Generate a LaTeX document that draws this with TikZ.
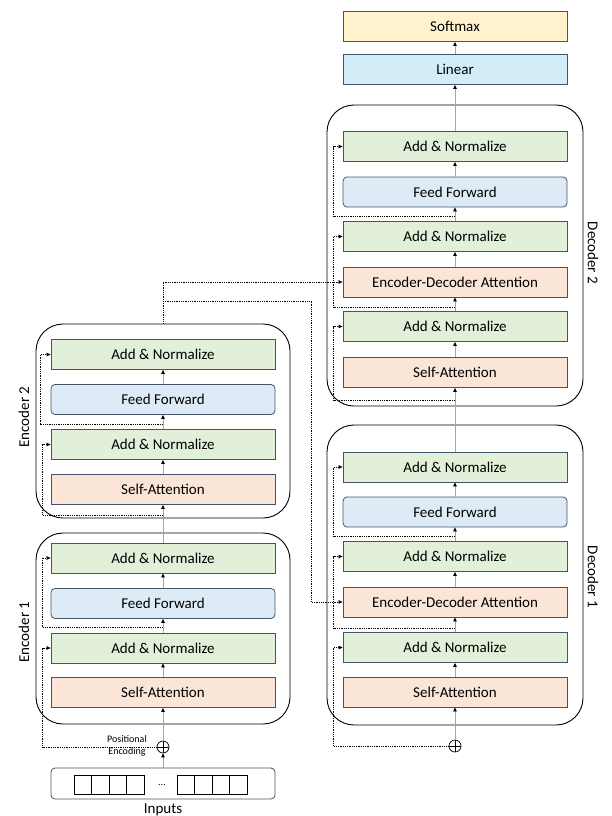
\documentclass[tikz,border=0pt]{standalone}
\usepackage{fontspec}
\setmainfont{Carlito}
\usetikzlibrary{arrows.meta}

\definecolor{boxline}{HTML}{44546A}
\definecolor{addgreen}{HTML}{E2F0D9}
\definecolor{ffblue}{HTML}{DEEBF7}
\definecolor{attnpeach}{HTML}{FBE5D6}
\definecolor{smyellow}{HTML}{FFF2CC}
\definecolor{lincyan}{HTML}{D2EDF7}
\definecolor{flowgray}{HTML}{A6A6A6}

\newcommand{\boxfont}{\fontsize{15}{18}\selectfont}
\newcommand{\tinyfont}{\fontsize{10}{12}\selectfont}

\begin{document}
\begin{tikzpicture}[
        x=1pt, y=-1pt,
        blk/.style={draw=boxline, line width=0.8pt, minimum width=224pt, minimum height=30pt, inner sep=0pt, font=\boxfont},
        addn/.style={blk, fill=addgreen},
        ffwd/.style={blk, fill=ffblue, rounded corners=4pt},
        attn/.style={blk, fill=attnpeach},
        cont/.style={draw=black, line width=0.9pt, rounded corners=27pt, minimum width=254pt, inner sep=0pt},
        cell/.style={draw=black, line width=0.7pt, minimum width=17.6pt, minimum height=19pt, inner sep=0pt},
        oplus/.style={draw=black, circle, line width=0.7pt, minimum size=12pt, inner sep=0pt},
        flow/.style={draw=flowgray, line width=0.8pt, -{Triangle[length=4pt, width=3.5pt, color=black]}},
        res/.style={draw=black, line width=0.7pt, dash pattern=on 1pt off 0.8pt, -{Triangle[length=4pt, width=3.5pt]}},
      ]
        \useasboundingbox (0,0) rectangle (612,816);

        % Containers
        \node[cont, minimum height=191pt] (e1) at (163,628.5) {};
        \node[cont, minimum height=194pt] (e2) at (163,421) {};
        \node[cont, minimum width=256pt, minimum height=300pt] (d1) at (455,575) {};
        \node[cont, minimum width=256pt, minimum height=301pt] (d2) at (455,255.5) {};

        % Encoder 1
        \node[attn] (e1sa) at (163,692.5) {Self-Attention};
        \node[addn] (e1an1) at (163,648) {Add \& Normalize};
        \node[ffwd] (e1ff) at (163,603.5) {Feed Forward};
        \node[addn] (e1an2) at (163,558) {Add \& Normalize};
        \node[font=\boxfont, rotate=90] (e1lbl) at (24,632) {Encoder 1};

        % Encoder 2
        \node[attn] (e2sa) at (163,489.5) {Self-Attention};
        \node[addn] (e2an1) at (163,444.5) {Add \& Normalize};
        \node[ffwd] (e2ff) at (163,399.5) {Feed Forward};
        \node[addn] (e2an2) at (163,354.5) {Add \& Normalize};
        \node[font=\boxfont, rotate=90] (e2lbl) at (24,417) {Encoder 2};

        % Decoder 1
        \node[attn] (d1sa) at (455,692) {Self-Attention};
        \node[addn] (d1an1) at (455,647.5) {Add \& Normalize};
        \node[attn] (d1eda) at (455,602) {Encoder-Decoder Attention};
        \node[addn] (d1an2) at (455,556.5) {Add \& Normalize};
        \node[ffwd] (d1ff) at (455,512) {Feed Forward};
        \node[addn] (d1an3) at (455,467) {Add \& Normalize};
        \node[font=\boxfont, rotate=-90] (d1lbl) at (593,577) {Decoder 1};

        % Decoder 2
        \node[attn] (d2sa) at (455,372.5) {Self-Attention};
        \node[addn] (d2an1) at (455,326.5) {Add \& Normalize};
        \node[attn] (d2eda) at (455,282) {Encoder-Decoder Attention};
        \node[addn] (d2an2) at (455,236.5) {Add \& Normalize};
        \node[ffwd] (d2ff) at (455,192) {Feed Forward};
        \node[addn] (d2an3) at (455,146.5) {Add \& Normalize};
        \node[font=\boxfont, rotate=-90] (d2lbl) at (593,253) {Decoder 2};

        % Output head
        \node[blk, fill=lincyan] (lin) at (455,69.5) {Linear};
        \node[blk, fill=smyellow] (soft) at (455,26.5) {Softmax};

        % Inputs and positional encoding
        \node[draw=boxline, line width=0.8pt, rounded corners=4pt, minimum width=224pt, minimum height=31pt] (inp) at (163,783.5) {};
        \foreach \i in {0,...,3} {
          \node[cell] (ca\i) at ({82.8+17.6*\i},784.5) {};
          \node[cell] (cb\i) at ({185.8+17.6*\i},784.5) {};
        }
        \node[font=\tinyfont] (dots) at (162,785) {...};
        \node[font=\boxfont] (inlbl) at (163,810) {Inputs};
        \node[oplus] (e1pe) at (163,747) {};
        \draw[line width=0.7pt] (e1pe.north) -- (e1pe.south) (e1pe.west) -- (e1pe.east);
        \node[font=\tinyfont, align=center] (pelbl) at (127,746) {Positional\\Encoding};
        \node[oplus] (d1pe) at (455,746) {};
        \draw[line width=0.7pt] (d1pe.north) -- (d1pe.south) (d1pe.west) -- (d1pe.east);

        % Main flow
        \draw[flow] (inp) -- (e1pe);
        \draw[flow] (e1pe) -- (e1sa);
        \draw[flow] (e1sa) -- (e1an1);
        \draw[flow] (e1an1) -- (e1ff);
        \draw[flow] (e1ff) -- (e1an2);
        \draw[flow] (e1an2) -- (e2sa);
        \draw[flow] (e2sa) -- (e2an1);
        \draw[flow] (e2an1) -- (e2ff);
        \draw[flow] (e2ff) -- (e2an2);
        \draw[flow] (d1pe) -- (d1sa);
        \draw[flow] (d1sa) -- (d1an1);
        \draw[flow] (d1an1) -- (d1eda);
        \draw[flow] (d1eda) -- (d1an2);
        \draw[flow] (d1an2) -- (d1ff);
        \draw[flow] (d1ff) -- (d1an3);
        \draw[flow] (d1an3) -- (d2sa);
        \draw[flow] (d2sa) -- (d2an1);
        \draw[flow] (d2an1) -- (d2eda);
        \draw[flow] (d2eda) -- (d2an2);
        \draw[flow] (d2an2) -- (d2ff);
        \draw[flow] (d2ff) -- (d2an3);
        \draw[flow] (d2an3) -- (lin);
        \draw[flow] (lin) -- (soft);

        % Residual connections
        \coordinate (e1b1) at ([yshift=5pt]e1an1.north);
        \coordinate (e2b0) at ([yshift=-10pt]e2sa.south);
        \coordinate (e2b1) at ([yshift=5pt]e2an1.north);
        \coordinate (d1b1) at ([yshift=4pt]d1an1.north);
        \coordinate (d1b2) at ([yshift=5pt]d1an2.north);
        \coordinate (d2b0) at ([yshift=-12pt]d2sa.south);
        \coordinate (d2b1) at ([yshift=4pt]d2an1.north);
        \coordinate (d2b2) at ([yshift=5pt]d2an2.north);
        \draw[res] (e1pe) -| ([xshift=-8pt]e1an1.west) -- (e1an1.west);
        \draw[res] (e1b1) -| ([xshift=-8pt]e1an2.west) -- (e1an2.west);
        \draw[res] (e2b0) -| ([xshift=-8pt]e2an1.west) -- (e2an1.west);
        \draw[res] (e2b1) -| ([xshift=-10pt]e2an2.west) -- (e2an2.west);
        \draw[res] (d1pe) -| ([xshift=-9pt]d1an1.west) -- (d1an1.west);
        \draw[res] (d1b1) -| ([xshift=-9pt]d1an2.west) -- (d1an2.west);
        \draw[res] (d1b2) -| ([xshift=-9pt]d1an3.west) -- (d1an3.west);
        \draw[res] (d2b0) -| ([xshift=-9pt]d2an1.west) -- (d2an1.west);
        \draw[res] (d2b1) -| ([xshift=-9pt]d2an2.west) -- (d2an2.west);
        \draw[res] (d2b2) -| ([xshift=-9pt]d2an3.west) -- (d2an3.west);

        % Encoder output to decoders
        \coordinate (e2out) at (163,301);
        \draw[res] (e2.north) |- (d2eda.west);
        \draw[res] (e2out) -| ([xshift=-31pt]d1eda.west) -- (d1eda.west);
      \end{tikzpicture}
\end{document}
